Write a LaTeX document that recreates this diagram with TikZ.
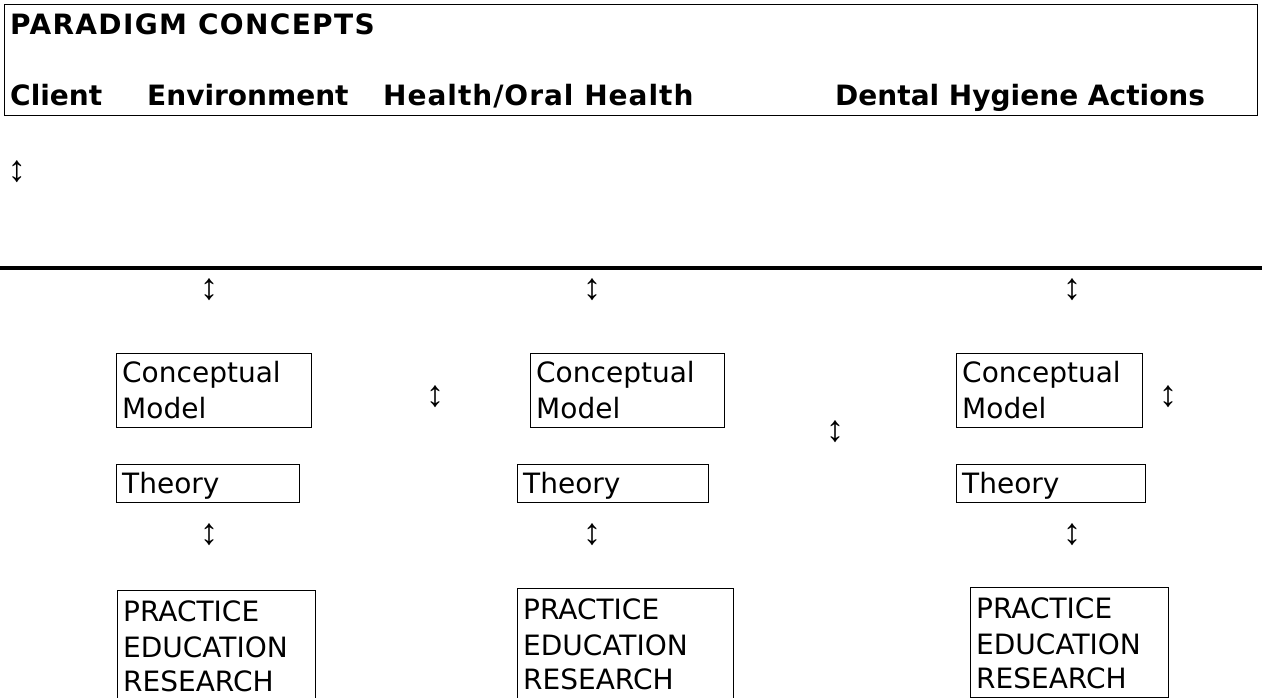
\documentclass[tikz,border=0pt]{standalone}
\usepackage{fontspec}
\setmainfont{DejaVu Sans}
\newfontfamily\arrowfont{Liberation Sans}
\begin{document}
\begin{tikzpicture}[x=1pt,y=-1pt,
  hdr/.style={anchor=base west,inner sep=0pt,font=\fontsize{28}{34}\selectfont\bfseries},
  txt/.style={anchor=base west,inner sep=0pt,font=\fontsize{28}{34}\selectfont},
  arr/.style={inner sep=0pt,font=\arrowfont\fontsize{37}{40}\selectfont},
  bx/.style={draw,line width=1.3pt,anchor=north west,inner sep=0pt}]
\clip (0,0) rectangle (1262,698);
\fill[white] (0,0) rectangle (1262,698);
% top box
\node[draw,line width=1.4pt,anchor=north west,inner sep=0pt,minimum width=1253pt,minimum height=111pt] (top) at (4,4) {};
\node[hdr] (pc) at (10,35) {\addfontfeature{LetterSpace=4.8}PARADIGM CONCEPTS};
\node[hdr] (cl) at (10,106) {Client};
\node[hdr] (en) at (147,106) {Environment};
\node[hdr] (he) at (383,106) {\addfontfeature{LetterSpace=3.5}Health/Oral Health};
\node[hdr] (dh) at (835,106) {Dental Hygiene Actions};
% arrows
\node[arr] (a0) at (17,172) {↕};
\draw[line width=4pt] (0,268) -- (1262,268);
\node[arr] (a1) at (209,290) {↕};
\node[arr] (a2) at (592,290) {↕};
\node[arr] (a3) at (1072,290) {↕};
\node[arr] (a4) at (435,397) {↕};
\node[arr] (a5) at (835,432) {↕};
\node[arr] (a6) at (1168,397) {↕};
\node[arr] (a7) at (209,535) {↕};
\node[arr] (a8) at (592,535) {↕};
\node[arr] (a9) at (1072,535) {↕};
% conceptual model boxes
\node[bx,minimum width=195pt,minimum height=74pt] (cm1) at (116,353) {};
\node[bx,minimum width=194pt,minimum height=74pt] (cm2) at (530,353) {};
\node[bx,minimum width=186pt,minimum height=74pt] (cm3) at (956,353) {};
\foreach \b in {cm1,cm2,cm3}{
  \node[txt] at ([shift={(6pt,-29pt)}]\b.north west) {Conceptual};
  \node[txt] at ([shift={(6pt,-65pt)}]\b.north west) {Model};
}
% theory boxes
\node[bx,minimum width=183pt,minimum height=38pt] (th1) at (116,464) {};
\node[bx,minimum width=191pt,minimum height=38pt] (th2) at (517,464) {};
\node[bx,minimum width=189pt,minimum height=38pt] (th3) at (956,464) {};
\foreach \b in {th1,th2,th3}{
  \node[txt] at ([shift={(6pt,-29pt)}]\b.north west) {Theory};
}
% practice boxes
\node[bx,minimum width=198pt,minimum height=130pt] (pr1) at (117,590) {};
\node[bx,minimum width=216pt,minimum height=130pt] (pr2) at (517,588) {};
\node[bx,minimum width=198pt,minimum height=110pt] (pr3) at (970,587) {};
\foreach \b in {pr1,pr2,pr3}{
  \node[txt] at ([shift={(6pt,-31pt)}]\b.north west) {PRACTICE};
  \node[txt] at ([shift={(6pt,-67pt)}]\b.north west) {EDUCATION};
  \node[txt] at ([shift={(6pt,-101pt)}]\b.north west) {RESEARCH};
}
\end{tikzpicture}
\end{document}
